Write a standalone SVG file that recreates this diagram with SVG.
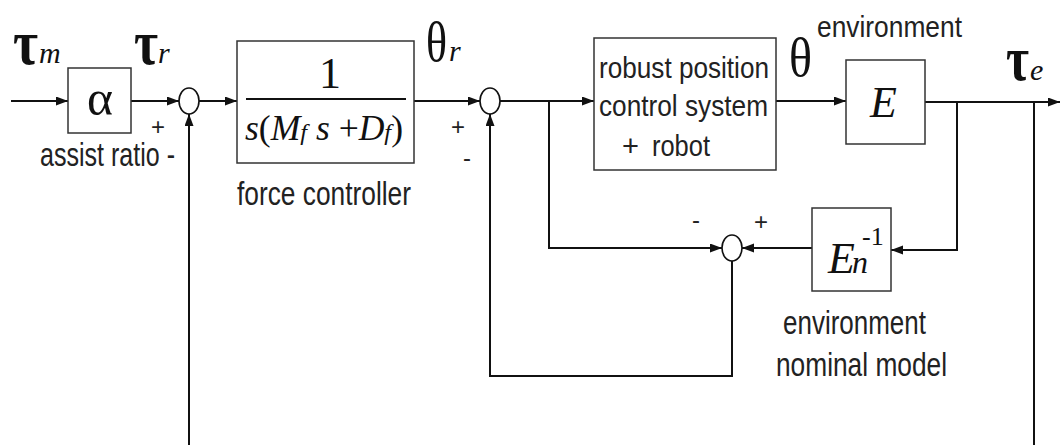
<svg xmlns="http://www.w3.org/2000/svg" width="1060" height="445" viewBox="0 0 1060 445">
<defs>
<marker id="ah" markerWidth="13" markerHeight="10" refX="12" refY="4.5" orient="auto" markerUnits="userSpaceOnUse">
<path d="M0,0 L12,4.5 L0,9 z" fill="#111"/>
</marker>
<style>
.box{fill:#fff;stroke:#333;stroke-width:1.5}
.sum{fill:#fff;stroke:#111;stroke-width:1.6}
.wire{fill:none;stroke:#111;stroke-width:2}
.arr{marker-end:url(#ah)}
.lab{font-family:"Liberation Sans",Arial,sans-serif;font-size:33px;fill:#222}
.lab.sm{font-size:29px}
.sign{font-family:"Liberation Sans",Arial,sans-serif;font-size:24px;fill:#222}
.math{font-family:"Liberation Serif","Times New Roman",serif;fill:#111}
.it{font-style:italic}
.tau{font-size:64px;font-weight:bold}
</style>
</defs>
<rect width="1060" height="445" fill="#fff"/>

<g id="connectors">
<line class="wire arr" x1="11" y1="101" x2="68" y2="101"/>
<line class="wire arr" x1="131" y1="101" x2="179" y2="101"/>
<line class="wire arr" x1="199" y1="101" x2="237" y2="101"/>
<line class="wire arr" x1="414" y1="101" x2="480" y2="101"/>
<line class="wire arr" x1="500" y1="101" x2="594" y2="101"/>
<line class="wire arr" x1="776" y1="101" x2="846" y2="101"/>
<line class="wire arr" x1="925" y1="102" x2="1060" y2="102"/>
<polyline class="wire arr" points="549,101 549,248 722,248"/>
<line class="wire arr" x1="812" y1="248" x2="742" y2="248"/>
<polyline class="wire arr" points="957,102 957,250 891,250"/>
<polyline class="wire arr" points="732,261 732,376 490,376 490,114"/>
<line class="wire" x1="1034" y1="102" x2="1034" y2="445"/>
<line class="wire arr" x1="189" y1="445" x2="189" y2="114"/>
</g>

<g id="input-tau-m">
<text class="math" x="13" y="64"><tspan class="tau" textLength="25" lengthAdjust="spacingAndGlyphs">τ</tspan><tspan class="it" x="39" y="63" font-size="30">m</tspan></text>
</g>

<g id="assist-ratio">
<rect class="box" x="68" y="68" width="63" height="65"/>
<text class="math" x="87" y="115" font-size="50" textLength="26" lengthAdjust="spacingAndGlyphs">α</text>
<text class="lab" x="40" y="166" textLength="135" lengthAdjust="spacingAndGlyphs">assist ratio -</text>
</g>

<g id="tau-r">
<text class="math" x="134" y="64"><tspan class="tau" textLength="24" lengthAdjust="spacingAndGlyphs">τ</tspan><tspan class="it" x="158" y="63" font-size="30">r</tspan></text>
</g>

<g id="sum1">
<ellipse class="sum" cx="189" cy="101" rx="10" ry="13"/>
<text class="sign" x="151" y="135">+</text>
</g>

<g id="force-controller">
<rect class="box" x="237" y="41" width="177" height="122"/>
<text class="math" x="330" y="88" font-size="44" text-anchor="middle">1</text>
<line x1="246" y1="99" x2="406" y2="99" stroke="#111" stroke-width="2.2"/>
<text class="math" x="245" y="140" font-size="35" textLength="158" lengthAdjust="spacingAndGlyphs"><tspan class="it">s</tspan>(<tspan class="it">M</tspan><tspan class="it" font-size="24">f</tspan> <tspan class="it">s</tspan> +<tspan class="it">D</tspan><tspan class="it" font-size="24">f</tspan>)</text>
<text class="lab" x="237" y="205" textLength="174" lengthAdjust="spacingAndGlyphs">force controller</text>
</g>

<g id="theta-r">
<text class="math" x="426" y="61"><tspan font-size="56" textLength="21" lengthAdjust="spacingAndGlyphs">θ</tspan><tspan class="it" x="449" y="61" font-size="30">r</tspan></text>
</g>

<g id="sum2">
<ellipse class="sum" cx="490" cy="101" rx="10" ry="13"/>
<text class="sign" x="451" y="135">+</text>
<text class="sign" x="463" y="166">-</text>
</g>

<g id="robust-position">
<rect class="box" x="594" y="38" width="182" height="132"/>
<text class="lab sm" x="599" y="78" textLength="170" lengthAdjust="spacingAndGlyphs">robust position</text>
<text class="lab sm" x="599" y="116" textLength="169" lengthAdjust="spacingAndGlyphs">control system</text>
<text class="lab sm" x="622" y="156">+</text>
<text class="lab sm" x="652" y="156" textLength="58" lengthAdjust="spacingAndGlyphs">robot</text>
</g>

<g id="theta">
<text class="math" x="789" y="76" font-size="54" textLength="23" lengthAdjust="spacingAndGlyphs">θ</text>
</g>

<g id="environment">
<rect class="box" x="846" y="60" width="79" height="84"/>
<text class="math it" x="870" y="117" font-size="44">E</text>
<text class="lab" x="817" y="37" style="font-size:30px" textLength="145" lengthAdjust="spacingAndGlyphs">environment</text>
</g>

<g id="tau-e">
<text class="math" x="1006" y="80"><tspan class="tau" textLength="23" lengthAdjust="spacingAndGlyphs">τ</tspan><tspan class="it" x="1030" y="80" font-size="30">e</tspan></text>
</g>

<g id="sum3">
<ellipse class="sum" cx="732" cy="248" rx="10" ry="13"/>
<text class="sign" x="692" y="228">-</text>
<text class="sign" x="754" y="230">+</text>
</g>

<g id="environment-nominal-model">
<rect class="box" x="812" y="208" width="79" height="83"/>
<text class="math it" x="828" y="273" font-size="44">E</text>
<text class="math it" x="852" y="273" font-size="32">n</text>
<text class="math" x="862" y="245" font-size="26">-1</text>
<text class="lab" x="783" y="334" textLength="143" lengthAdjust="spacingAndGlyphs">environment</text>
<text class="lab" x="776" y="376" textLength="171" lengthAdjust="spacingAndGlyphs">nominal model</text>
</g>
</svg>
